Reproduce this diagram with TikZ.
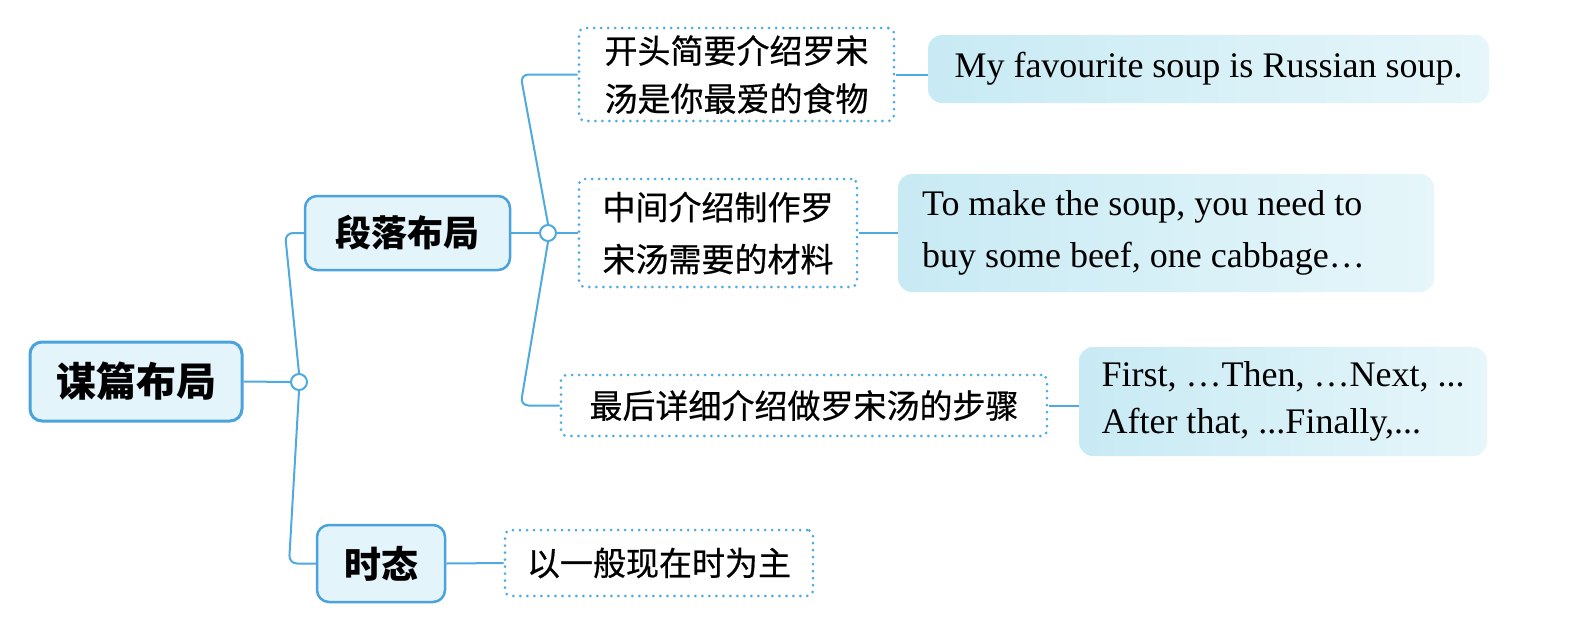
\documentclass[tikz,border=0pt]{standalone}
\usepackage{fontspec}
\newfontfamily\cjk{Noto Sans CJK SC}
\newfontfamily\cjkm[FakeBold=0.6]{Noto Sans CJK SC}
\newfontfamily\en{Liberation Serif}
\definecolor{lineblue}{HTML}{4FAADF}
\definecolor{boxblue}{HTML}{4AA3DC}
\definecolor{boxfill}{HTML}{E3F4FB}
\definecolor{enleft}{HTML}{C8EAF4}
\definecolor{enright}{HTML}{E6F6FA}
\begin{document}
\begin{tikzpicture}[x=1pt,y=-1pt,
  mainbox/.style={draw=boxblue, fill=boxfill, rounded corners=12pt, line width=2.5pt, inner sep=0pt, align=center},
  dotbox/.style={draw=lineblue, line width=3pt, dash pattern=on 0pt off 7pt, line cap=round, rounded corners=6pt, font=\cjkm\fontsize{33}{48}\selectfont, align=center, inner sep=0pt},
  enbox/.style={left color=enleft, right color=enright, draw=none, rounded corners=14pt, font=\en\fontsize{36}{52}\selectfont, align=flush left, inner sep=0pt},
  conn/.style={draw=lineblue, line width=2pt, rounded corners=8pt},
  junc/.style={circle, draw=lineblue, fill=white, line width=2pt, minimum size=16pt, inner sep=0pt}]
\fill[white] (0,0) rectangle (1578,624);
\useasboundingbox (0,0) rectangle (1578,624);

\node[mainbox, line width=3pt, minimum width=212pt, minimum height=79pt, font=\cjk\bfseries\fontsize{40}{48}\selectfont] (root) at (136,381.5) {谋篇布局};
\node[mainbox, minimum width=205pt, minimum height=74pt, font=\cjk\bfseries\fontsize{36}{44}\selectfont] (dl) at (407.5,233) {段落布局};
\node[mainbox, minimum width=128pt, minimum height=77pt, font=\cjk\bfseries\fontsize{37}{44}\selectfont] (st) at (381,563.5) {时态};
\node[junc] (j1) at (299,382) {};
\node[junc] (j2) at (548,233) {};

\node[dotbox, minimum width=315pt, minimum height=93pt] (n1) at (736.5,74.5) {开头简要介绍罗宋\\汤是你最爱的食物};
\node[dotbox, minimum width=278pt, minimum height=108pt, font=\cjkm\fontsize{33}{52}\selectfont] (n2) at (718,233) {中间介绍制作罗\\宋汤需要的材料};
\node[dotbox, minimum width=486pt, minimum height=61pt] (n3) at (804,405.5) {最后详细介绍做罗宋汤的步骤};
\node[dotbox, minimum width=308pt, minimum height=66pt] (n4) at (659,563) {以一般现在时为主};

\node[enbox, minimum width=561pt, minimum height=68pt] (e1) at (1208.5,69) {My favourite soup is Russian soup.};
\node[enbox, text width=488pt, inner xsep=24pt, minimum height=118pt] (e2) at (1166,233) {To make the soup, you need to\\buy some beef, one cabbage…};
\node[enbox, minimum width=408pt, minimum height=109pt, font=\en\fontsize{36}{47}\selectfont] (e3) at (1283,401.5) {First, …Then, …Next, ...\\After that, ...Finally,...};

\draw[conn] (root.east) -- (j1.west);
\draw[conn] (j1.north) -- (285,233) -- (dl.west);
\draw[conn] (j1.south) -- (289,563.5) -- (st.west);
\draw[conn] (dl.east) -- (j2.west);
\draw[conn] (j2.north) -- ([xshift=-57pt]n1.west) -- (n1.west);
\draw[conn] (j2.east) -- (n2.west);
\draw[conn] (j2.south) -- ([xshift=-39pt]n3.west) -- (n3.west);
\draw[conn] (n1.east) -- (n1.east -| e1.west);
\draw[conn] (n2.east) -- (n2.east -| e2.west);
\draw[conn] (n3.east) -- (n3.east -| e3.west);
\draw[conn] (st.east) -- (n4.west);
\end{tikzpicture}
\end{document}
